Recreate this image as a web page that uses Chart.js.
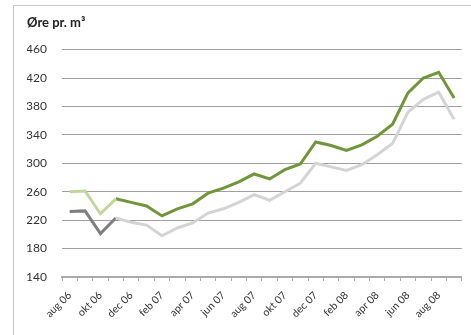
<!DOCTYPE html>
<html>
<head>
<meta charset="utf-8">
<script src="https://cdn.jsdelivr.net/npm/chart.js@4.4.0/dist/chart.umd.min.js"></script>
<style>
  body { margin: 0; background: #fff; }
  #wrap { position: relative; width: 471px; height: 335px; overflow: hidden; }
  #frame { position: absolute; left: 13px; top: 5px; width: 470px; height: 340px; border: 1px solid #c8c8c8; }
  #myChart { position: absolute; left: 0; top: 0; }
</style>
</head>
<body>
<div id="wrap">
  <div id="frame"></div>
  <canvas id="myChart" width="471" height="335"></canvas>
</div>
<script>
// måneder (kategorier)
const months = ["aug 06", "sep 06", "okt 06", "nov 06", "dec 06", "jan 07", "feb 07", "mar 07",
  "apr 07", "maj 07", "jun 07", "jul 07", "aug 07", "sep 07", "okt 07", "nov 07", "dec 07",
  "jan 08", "feb 08", "mar 08", "apr 08", "maj 08", "jun 08", "jul 08", "aug 08", "sep 08"];

// øre pr. m3
const lightGreen = [260, 261, 229, 250, null, null, null, null, null, null, null, null, null,
  null, null, null, null, null, null, null, null, null, null, null, null, null];
const darkGreen = [null, null, null, 250, 245, 240, 226, 236, 243, 258, 265, 274, 285,
  278, 291, 299, 330, 325, 318, 326, 338, 355, 399, 420, 428, 392];
const darkGray = [232, 233, 201, 223, null, null, null, null, null, null, null, null, null,
  null, null, null, null, null, null, null, null, null, null, null, null, null];
const lightGray = [null, null, null, 223, 217, 213, 198, 209, 216, 230, 236, 245, 256,
  248, 260, 272, 300, 295, 290, 298, 312, 328, 372, 390, 400, 362];

const yTicks = [140, 180, 220, 260, 300, 340, 380, 420, 460];

function line(data, color) {
  return {
    data: data,
    borderColor: color,
    backgroundColor: color,
    borderWidth: 3,
    pointRadius: 0,
    tension: 0,
    spanGaps: false,
  };
}

const ctx = document.getElementById("myChart").getContext("2d");
new Chart(ctx, {
  type: "line",
  data: {
    labels: months,
    datasets: [
      line(lightGray, "#d4d4d4"),
      line(darkGray, "#7f7f7f"),
      line(lightGreen, "#c3d69b"),
      line(darkGreen, "#71963a"),
    ],
  },
  options: {
    responsive: false,
    animation: false,
    layout: { padding: { left: 27, right: 1, top: 0, bottom: 0 } },
    plugins: {
      legend: { display: false },
      tooltip: { enabled: false },
      title: {
        display: true,
        text: "Øre pr. m³",
        align: "start",
        color: "#222",
        font: { family: "Lato", size: 13, weight: "bold" },
        padding: { top: 15, bottom: 19 },
      },
    },
    scales: {
      y: {
        min: yTicks[0],
        max: yTicks[yTicks.length - 1],
        afterBuildTicks: (scale) => {
          scale.ticks = yTicks.map((v) => ({ value: v }));
        },
        afterFit: (scale) => {
          scale.width = 35;
        },
        border: { display: false },
        grid: { color: "#a0a0a0", lineWidth: 1, drawTicks: false },
        ticks: {
          padding: 15,
          color: "#333",
          font: { family: "Lato", size: 12 },
        },
      },
      x: {
        offset: true,
        afterFit: (scale) => {
          scale.height = 58;
        },
        border: { display: true, color: "#ababab", width: 2 },
        grid: {
          offset: true,
          drawOnChartArea: false,
          drawTicks: true,
          tickLength: 4,
          lineWidth: 1,
          color: "#ababab",
        },
        ticks: {
          autoSkip: false,
          minRotation: 45,
          maxRotation: 45,
          padding: 8,
          color: "#333",
          font: { family: "Lato", size: 10.5 },
          callback: function (value, index) {
            return index % 2 === 0 ? months[index] : "";
          },
        },
      },
    },
  },
});
</script>
</body>
</html>
